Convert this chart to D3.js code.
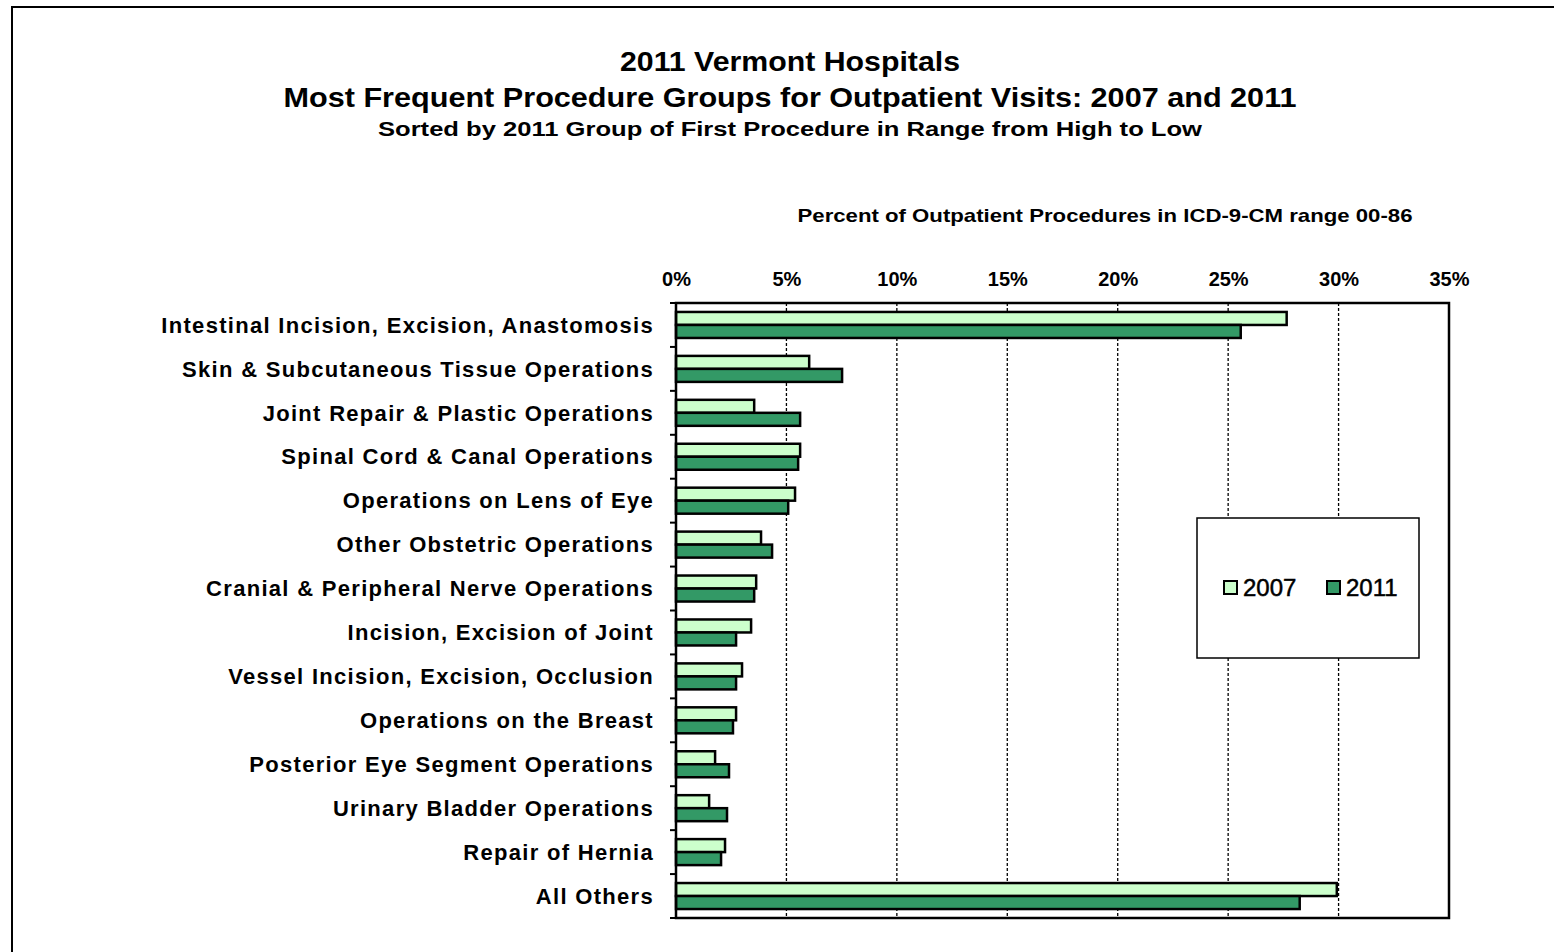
<!DOCTYPE html>
<meta charset="utf-8">
<html>
<head>
<script src="https://d3js.org/d3.v7.min.js" charset="utf-8"></script>
<style>
body { margin: 0; background: #fff; }
text { font-family: "Liberation Sans", Arial, sans-serif; font-weight: bold; fill: #000; }
</style>
</head>
<body>
<svg width="1554" height="952"></svg>
<script type="text/javascript">
// data
var categories = [
  "Intestinal Incision, Excision, Anastomosis",
  "Skin & Subcutaneous Tissue Operations",
  "Joint Repair & Plastic Operations",
  "Spinal Cord & Canal Operations",
  "Operations on Lens of Eye",
  "Other Obstetric Operations",
  "Cranial & Peripheral Nerve Operations",
  "Incision, Excision of Joint",
  "Vessel Incision, Excision, Occlusion",
  "Operations on the Breast",
  "Posterior Eye Segment Operations",
  "Urinary Bladder Operations",
  "Repair of Hernia",
  "All Others"
];
var values2007 = [27.65, 6.03, 3.54, 5.62, 5.39, 3.85, 3.63, 3.40, 2.99, 2.72, 1.77, 1.50, 2.22, 29.92];
var values2011 = [25.57, 7.52, 5.62, 5.53, 5.08, 4.35, 3.54, 2.72, 2.72, 2.58, 2.40, 2.31, 2.04, 28.24];
var seriesNames = ["2007", "2011"];
var tickValues = [0, 5, 10, 15, 20, 25, 30, 35];

var colors = {"2007": "#ccffcc", "2011": "#339966"};

var svg = d3.select("svg");

// outer frame (only top and left edges are visible)
svg.append("path")
    .attr("d", "M12,952 V7 H1554")
    .attr("fill", "none")
    .attr("stroke", "#000")
    .attr("stroke-width", 2);

// titles
svg.append("text").attr("x", 790).attr("y", 71).attr("text-anchor", "middle")
    .style("font-size", "27px").attr("textLength", 340).attr("lengthAdjust", "spacingAndGlyphs")
    .text("2011 Vermont Hospitals");
svg.append("text").attr("x", 790).attr("y", 107).attr("text-anchor", "middle")
    .style("font-size", "28px").attr("textLength", 1013).attr("lengthAdjust", "spacingAndGlyphs")
    .text("Most Frequent Procedure Groups for Outpatient Visits:  2007 and 2011");
svg.append("text").attr("x", 790).attr("y", 136).attr("text-anchor", "middle")
    .style("font-size", "20px").attr("textLength", 824).attr("lengthAdjust", "spacingAndGlyphs")
    .text("Sorted by 2011  Group of First Procedure in Range from High to Low");

var margin = {top: 303, left: 676, right: 1449, bottom: 918};
var width = margin.right - margin.left,
    height = margin.bottom - margin.top;

var g = svg.append("g").attr("transform", "translate(" + margin.left + "," + margin.top + ")");

var x = d3.scaleLinear().domain([0, 35]).range([0, width]);
var y = d3.scaleBand().domain(categories).range([0, height]);
var inner = d3.scaleBand().domain(seriesNames).range([0, 26]);

// axis title
svg.append("text").attr("x", 1105).attr("y", 222).attr("text-anchor", "middle")
    .style("font-size", "19px").attr("textLength", 615).attr("lengthAdjust", "spacingAndGlyphs")
    .text("Percent of Outpatient Procedures in ICD-9-CM range 00-86");

// dashed gridlines
g.selectAll(".grid")
  .data(tickValues.filter(function(d) { return d > 0 && d < 35; }))
  .enter().append("line")
    .attr("class", "grid")
    .attr("x1", function(d) { return x(d); })
    .attr("x2", function(d) { return x(d); })
    .attr("y1", 0).attr("y2", height)
    .attr("stroke", "#000")
    .attr("stroke-width", 1.3)
    .attr("stroke-dasharray", "3,2");

// top axis
var xAxis = g.append("g")
    .call(d3.axisTop(x).tickValues(tickValues).tickFormat(function(d) { return d + "%"; }).tickSize(0).tickPadding(17));
xAxis.select(".domain").remove();
xAxis.selectAll("text").style("font-size", "20px").attr("font-family", null);

// bars
var groups = g.selectAll(".cat")
  .data(categories)
  .enter().append("g")
    .attr("class", "cat")
    .attr("transform", function(d) { return "translate(0," + (y(d) + y.bandwidth() / 2 - 13) + ")"; });

groups.selectAll("rect")
  .data(function(d, i) { return [{s: "2007", v: values2007[i]}, {s: "2011", v: values2011[i]}]; })
  .enter().append("rect")
    .attr("x", 0)
    .attr("y", function(d) { return inner(d.s); })
    .attr("width", function(d) { return x(d.v); })
    .attr("height", inner.bandwidth())
    .attr("fill", function(d) { return colors[d.s]; })
    .attr("stroke", "#000")
    .attr("stroke-width", 2.5);

// plot frame
g.append("rect")
    .attr("width", width).attr("height", height)
    .attr("fill", "none").attr("stroke", "#000").attr("stroke-width", 2.5);

// y axis ticks between categories
g.selectAll(".ytick")
  .data(d3.range(categories.length + 1))
  .enter().append("line")
    .attr("x1", -6).attr("x2", 0)
    .attr("y1", function(i) { return i * y.step(); })
    .attr("y2", function(i) { return i * y.step(); })
    .attr("stroke", "#000").attr("stroke-width", 2);

// category labels
g.selectAll(".ylabel")
  .data(categories)
  .enter().append("text")
    .attr("x", -22)
    .attr("y", function(d) { return y(d) + y.bandwidth() / 2; })
    .attr("dy", "0.35em")
    .attr("text-anchor", "end")
    .style("font-size", "22px")
    .style("letter-spacing", "1.3px")
    .text(function(d) { return d; });

// legend
var legend = svg.append("g").attr("transform", "translate(1197,518)");
legend.append("rect").attr("width", 222).attr("height", 140)
    .attr("fill", "#fff").attr("stroke", "#000").attr("stroke-width", 1.5);
var item = legend.selectAll(".item")
  .data(seriesNames)
  .enter().append("g")
    .attr("transform", function(d, i) { return "translate(" + (27 + i * 103) + ",70)"; });
item.append("rect").attr("x", 0).attr("y", -7).attr("width", 13).attr("height", 13)
    .attr("fill", function(d) { return colors[d]; })
    .attr("stroke", "#000").attr("stroke-width", 2);
item.append("text").attr("x", 19).attr("y", 0).attr("dy", "0.35em")
    .style("font-size", "24px").style("font-weight", "normal")
    .style("stroke", "#000").style("stroke-width", 0.5)
    .text(function(d) { return d; });
</script>
</body>
</html>
